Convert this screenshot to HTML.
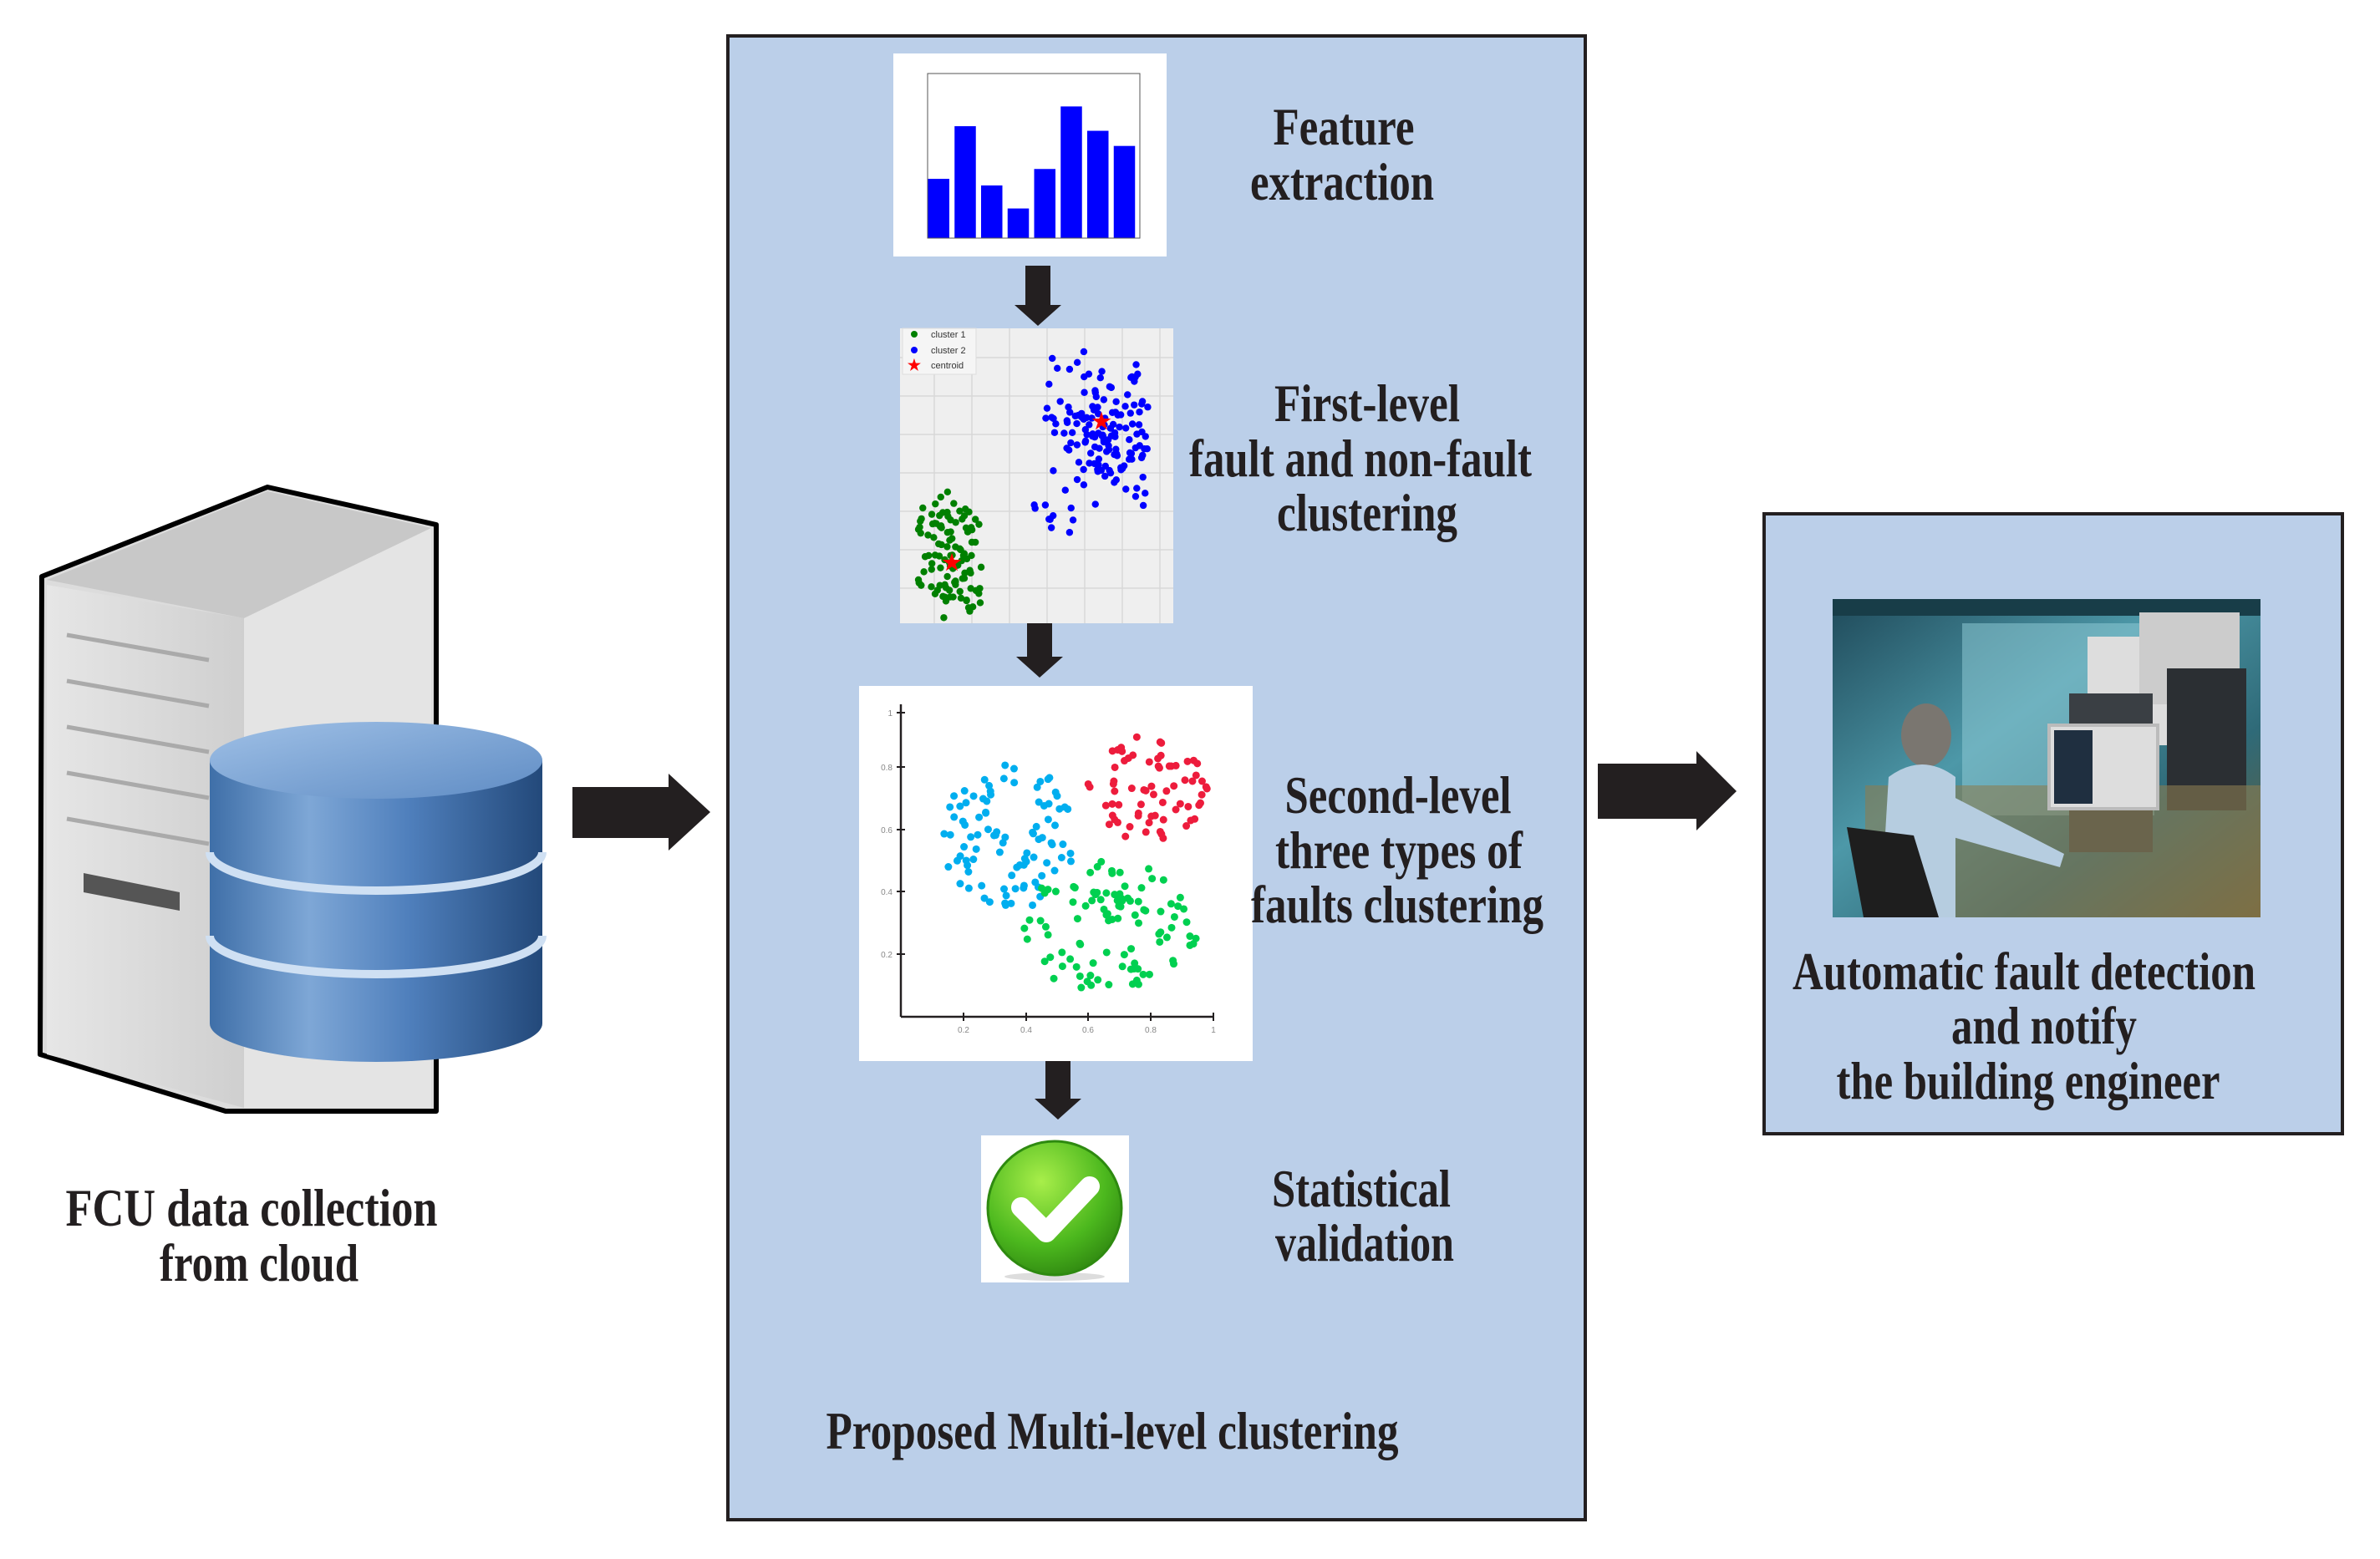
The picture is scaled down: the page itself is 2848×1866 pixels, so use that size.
<!DOCTYPE html>
<html><head><meta charset="utf-8"><style>
html,body{margin:0;padding:0;background:#fff;}
svg{display:block;}
text{font-family:"Liberation Serif",serif;font-weight:bold;fill:#231f20;}
</style></head><body>
<svg id="s" width="2848" height="1866" viewBox="0 0 2848 1866" xmlns="http://www.w3.org/2000/svg">
<defs>
<linearGradient id="cyl" x1="0" x2="1" y1="0" y2="0">
<stop offset="0" stop-color="#3f6fa8"/><stop offset="0.3" stop-color="#7ea7d6"/><stop offset="0.6" stop-color="#4f7fbc"/><stop offset="1" stop-color="#23497a"/></linearGradient>
<linearGradient id="cyltop" x1="0" x2="1" y1="0" y2="1">
<stop offset="0" stop-color="#9fc0e6"/><stop offset="1" stop-color="#5f8cc4"/></linearGradient>
<linearGradient id="front" x1="0" x2="1"><stop offset="0" stop-color="#e6e6e6"/><stop offset="1" stop-color="#cfcfcf"/></linearGradient>
<linearGradient id="photo" x1="0" x2="1" y1="0" y2="1">
<stop offset="0" stop-color="#1f4a5a"/><stop offset="0.4" stop-color="#4d98a8"/><stop offset="0.7" stop-color="#2f6a78"/><stop offset="1" stop-color="#6b5a30"/></linearGradient>
<radialGradient id="chk" cx="0.4" cy="0.3" r="0.8"><stop offset="0" stop-color="#a8ee4a"/><stop offset="0.6" stop-color="#4cb81e"/><stop offset="1" stop-color="#2a7e0e"/></radialGradient>
</defs>

<!-- server -->
<polygon points="50,690 320,583 522,628 522,1330 270,1330 48,1262" fill="#dcdcdc" stroke="#000" stroke-width="6" stroke-linejoin="round"/>
<polygon points="56,694 320,588 516,632 292,740" fill="#c8c8c8"/>
<polygon points="292,740 516,632 516,1326 292,1326" fill="#e4e4e4"/>
<polygon points="56,700 292,740 292,1326 56,1262" fill="url(#front)"/>
<g stroke="#aaa" stroke-width="5">
<line x1="80" y1="760" x2="250" y2="790"/><line x1="80" y1="815" x2="250" y2="845"/><line x1="80" y1="870" x2="250" y2="900"/><line x1="80" y1="925" x2="250" y2="955"/><line x1="80" y1="980" x2="250" y2="1010"/>
</g>
<polygon points="100,1045 215,1068 215,1090 100,1068" fill="#555"/>
<!-- database -->
<path d="M251,910 L251,1225 A199,46 0 0 0 649,1225 L649,910 Z" fill="url(#cyl)"/>
<ellipse cx="450" cy="910" rx="199" ry="46" fill="url(#cyltop)"/>
<path d="M251,1020 A199,46 0 0 0 649,1020" fill="none" stroke="#cfe0f3" stroke-width="10"/>
<path d="M251,1120 A199,46 0 0 0 649,1120" fill="none" stroke="#cfe0f3" stroke-width="10"/>

<!-- left arrow -->
<polygon points="685,942 800,942 800,926 850,972 800,1018 800,1003 685,1003" fill="#231f20"/>
<!-- right arrow -->
<polygon points="1912,914 2030,914 2030,899 2078,947 2030,994 2030,980 1912,980" fill="#231f20"/>

<!-- main box -->
<rect x="871" y="43" width="1026" height="1776" fill="#bbcfe9" stroke="#231f20" stroke-width="4"/>
<!-- right box -->
<rect x="2111" y="615" width="692" height="742" fill="#bbcfe9" stroke="#231f20" stroke-width="4"/>

<!-- bar chart -->
<rect x="1069" y="64" width="327" height="243" fill="#fff"/>
<g id="bars"></g>
<rect x="1110" y="88" width="254" height="197" fill="none" stroke="#555" stroke-width="1"/>

<!-- down arrows -->
<polygon points="1227,318 1257,318 1257,365 1270,365 1242,390 1214,365 1227,365" fill="#231f20"/>
<polygon points="1229,739 1259,739 1259,786 1272,786 1244,811 1216,786 1229,786" fill="#231f20"/>
<polygon points="1251,1268 1281,1268 1281,1315 1294,1315 1266,1340 1238,1315 1251,1315" fill="#231f20"/>

<!-- scatter 1 -->
<rect x="1077" y="393" width="327" height="353" fill="#efefef"/>
<g id="grid1" stroke="#d8d8d8" stroke-width="1.5"></g>
<g id="sc1"></g>
<rect x="1080" y="393" width="88" height="55" fill="#f5f5f5" stroke="#ddd"/>
<circle cx="1094" cy="400" r="4" fill="green"/><circle cx="1094" cy="419" r="4" fill="blue"/>
<text x="1114" y="404" style="font-family:'Liberation Sans',sans-serif;font-weight:normal;font-size:11px;fill:#333">cluster 1</text>
<text x="1114" y="423" style="font-family:'Liberation Sans',sans-serif;font-weight:normal;font-size:11px;fill:#333">cluster 2</text>
<text x="1114" y="441" style="font-family:'Liberation Sans',sans-serif;font-weight:normal;font-size:11px;fill:#333">centroid</text>
<text x="1094" y="443" text-anchor="middle" style="font-size:18px;fill:red">★</text>

<!-- scatter 2 -->
<rect x="1028" y="821" width="471" height="449" fill="#fff"/>
<g stroke="#231f20" stroke-width="2.5"><line x1="1078" y1="843" x2="1078" y2="1217"/><line x1="1078" y1="1217" x2="1452" y2="1217"/></g>
<g id="sc2"></g>

<!-- check -->
<rect x="1174" y="1359" width="177" height="176" fill="#fff"/>
<ellipse cx="1262" cy="1528" rx="60" ry="5" fill="#ddd"/>
<circle cx="1262" cy="1446" r="80" fill="url(#chk)" stroke="#2e8a10" stroke-width="3"/>
<polyline points="1222,1445 1252,1475 1304,1420" fill="none" stroke="#fff" stroke-width="24" stroke-linecap="round" stroke-linejoin="round"/>

<!-- photo -->
<rect x="2193" y="717" width="512" height="381" fill="url(#photo)"/>
<rect x="2193" y="717" width="512" height="20" fill="#183d48"/>
<rect x="2348" y="746" width="230" height="230" fill="#8cc9d4" opacity="0.55"/>
<rect x="2498" y="762" width="140" height="130" fill="#ddd"/>
<rect x="2560" y="733" width="120" height="110" fill="#ccc"/>
<rect x="2476" y="830" width="100" height="190" fill="#3a3f44"/>
<rect x="2593" y="800" width="95" height="140" fill="#2b2f33"/>
<rect x="2593" y="940" width="95" height="30" fill="#2b2f33"/>
<rect x="2232" y="940" width="473" height="158" fill="#8a7d52" opacity="0.6"/>
<rect x="2452" y="868" width="130" height="100" fill="#ddd" stroke="#bbb" stroke-width="4"/>
<rect x="2458" y="874" width="46" height="88" fill="#1f2f40"/>
<ellipse cx="2305" cy="880" rx="30" ry="38" fill="#7a7670"/>
<path d="M2260,930 Q2300,900 2340,930 L2340,1098 L2250,1098 Z" fill="#b6cde0"/>
<path d="M2330,950 L2470,1022 L2465,1038 L2330,1000 Z" fill="#b6cde0"/>
<path d="M2210,990 L2290,1000 L2320,1098 L2230,1098 Z" fill="#1e1e1e"/>

<!-- texts -->
<g font-size="64">
<text x="1608" y="173" text-anchor="middle" textLength="169" lengthAdjust="spacingAndGlyphs">Feature</text>
<text x="1606" y="239" text-anchor="middle" textLength="220" lengthAdjust="spacingAndGlyphs">extraction</text>
<text x="1636" y="504" text-anchor="middle" textLength="222" lengthAdjust="spacingAndGlyphs">First-level</text>
<text x="1628" y="570" text-anchor="middle" textLength="410" lengthAdjust="spacingAndGlyphs">fault and non-fault</text>
<text x="1636" y="635" text-anchor="middle" textLength="216" lengthAdjust="spacingAndGlyphs">clustering</text>
<text x="1673" y="973" text-anchor="middle" textLength="271" lengthAdjust="spacingAndGlyphs">Second-level</text>
<text x="1674" y="1039" text-anchor="middle" textLength="296" lengthAdjust="spacingAndGlyphs">three types of</text>
<text x="1672" y="1104" text-anchor="middle" textLength="350" lengthAdjust="spacingAndGlyphs">faults clustering</text>
<text x="1629" y="1444" text-anchor="middle" textLength="214" lengthAdjust="spacingAndGlyphs">Statistical</text>
<text x="1633" y="1509" text-anchor="middle" textLength="214" lengthAdjust="spacingAndGlyphs">validation</text>
<text x="1331" y="1734" text-anchor="middle" textLength="685" lengthAdjust="spacingAndGlyphs">Proposed Multi-level clustering</text>
<text x="2422" y="1184" text-anchor="middle" textLength="554" lengthAdjust="spacingAndGlyphs">Automatic fault detection</text>
<text x="2446" y="1249" text-anchor="middle" textLength="222" lengthAdjust="spacingAndGlyphs">and notify</text>
<text x="2427" y="1315" text-anchor="middle" textLength="459" lengthAdjust="spacingAndGlyphs">the building engineer</text>
<text x="301" y="1467" text-anchor="middle" textLength="445" lengthAdjust="spacingAndGlyphs">FCU  data collection</text>
<text x="310" y="1533" text-anchor="middle" textLength="238" lengthAdjust="spacingAndGlyphs">from cloud</text>
</g>
</svg>
<script>
var NS="http://www.w3.org/2000/svg";
function el(p,t,a){var e=document.createElementNS(NS,t);for(var k in a)e.setAttribute(k,a[k]);p.appendChild(e);return e;}
var seed=7;function r(){seed=(seed*16807)%2147483647;return seed/2147483647;}
function g(){return (r()+r())-1;}
// bars
var bars=document.getElementById('bars');var v=[.09,.17,.08,.045,.105,.2,.163,.14];
for(var i=0;i<8;i++){var h=v[i]/0.25*197;el(bars,'rect',{x:1110+i*31.75+0.5,y:285-h,width:25.5,height:h,fill:'#0000ff'});}
// grid1
var gr=document.getElementById('grid1');
for(var i=0;i<7;i++){el(gr,'line',{x1:1118+i*45,y1:393,x2:1118+i*45,y2:746});}
for(var i=0;i<7;i++){el(gr,'line',{x1:1077,y1:428+i*46,x2:1404,y2:428+i*46});}
var s1=document.getElementById('sc1');
for(var i=0;i<150;i++)el(s1,'circle',{cx:1316+g()*70,cy:515+g()*95,r:4.2,fill:'#0000ff'});
for(var i=0;i<10;i++)el(s1,'circle',{cx:1235+r()*50,cy:590+r()*50,r:4.2,fill:'#0000ff'});
for(var i=0;i<110;i++)el(s1,'circle',{cx:1140+g()*50,cy:665+g()*80,r:4.2,fill:'green'});
el(s1,'text',{x:1318,y:513,'text-anchor':'middle','font-size':'26',style:'fill:red'}).textContent='★';
el(s1,'text',{x:1139,y:682,'text-anchor':'middle','font-size':'26',style:'fill:red'}).textContent='★';
// scatter2
var s2=document.getElementById('sc2');
function cl(x0,x1,y0,y1,n,c){var cx=(x0+x1)/2,cy=(y0+y1)/2,sx=(x1-x0)/2,sy=(y1-y0)/2;for(var i=0;i<n;i++){var a=r()*6.283,d=Math.sqrt(r());var x=cx+Math.cos(a)*d*sx,y=cy+Math.sin(a)*d*sy;el(s2,'circle',{cx:1078+x*374,cy:1217-y*374,r:4.5,fill:c});}}
cl(0.13,0.56,0.34,0.82,95,'#00aeef');cl(0.59,0.98,0.56,0.9,70,'#ed1c3c');cl(0.39,0.95,0.07,0.5,100,'#00d050');
var lab=[['0.2',1153],['0.4',1228],['0.6',1302],['0.8',1377],['1',1452]];
lab.forEach(function(l){el(s2,'line',{x1:l[1],y1:1212,x2:l[1],y2:1222,stroke:'#231f20','stroke-width':2});var t=el(s2,'text',{x:l[1],y:1236,'text-anchor':'middle',style:'font-family:Liberation Sans,sans-serif;font-weight:normal;font-size:10px;fill:#888'});t.textContent=l[0];});
[['0.2',1142],['0.4',1067],['0.6',993],['0.8',918],['1',853]].forEach(function(l){el(s2,'line',{x1:1073,y1:l[1],x2:1083,y2:l[1],stroke:'#231f20','stroke-width':2});var t=el(s2,'text',{x:1068,y:l[1]+4,'text-anchor':'end',style:'font-family:Liberation Sans,sans-serif;font-weight:normal;font-size:10px;fill:#888'});t.textContent=l[0];});
</script>
</body></html>
